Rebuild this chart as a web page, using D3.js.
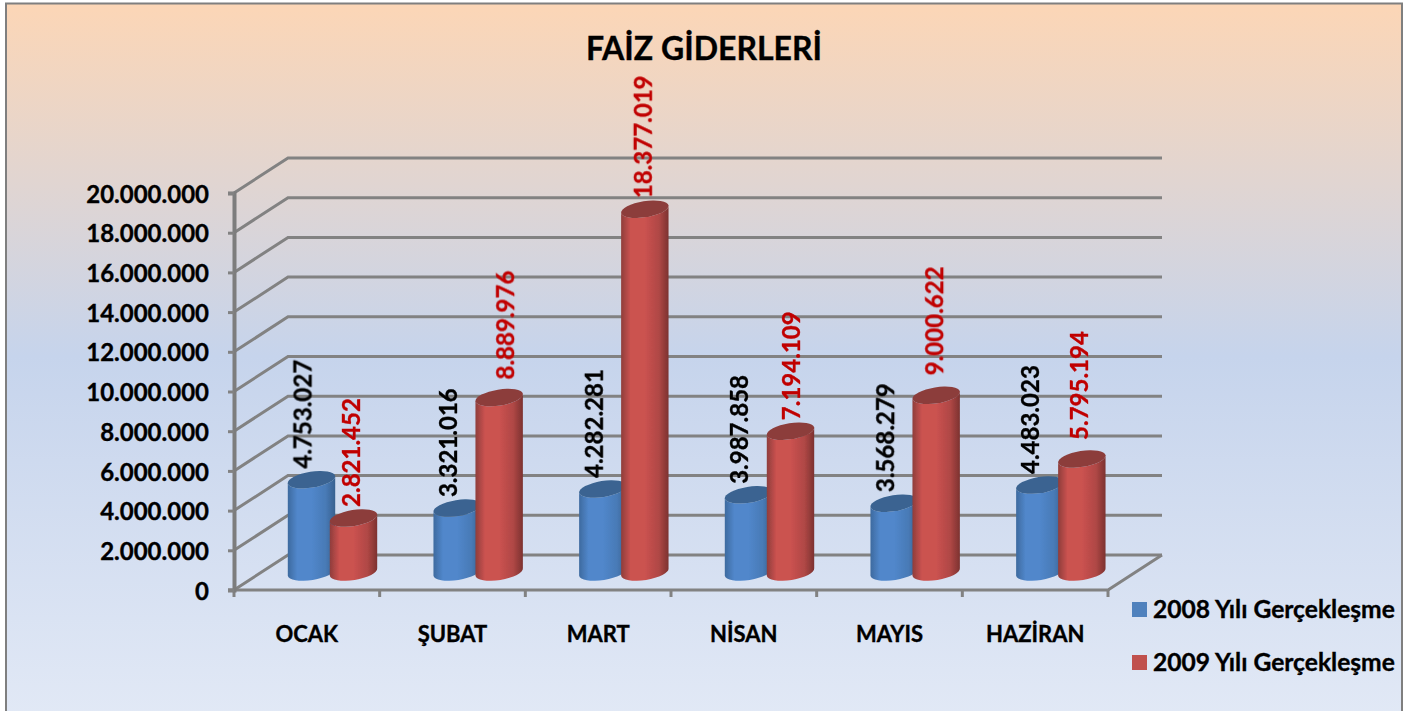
<!DOCTYPE html>
<html>
<head>
<meta charset="utf-8">
<script src="https://cdn.jsdelivr.net/npm/d3@7"></script>
<style>
  html, body { margin: 0; padding: 0; background: #fff; overflow: hidden; }
  text { font-family: Lato, "Open Sans", sans-serif; font-weight: 700; stroke-width: 0.35; }
  .grid { fill: none; stroke: #828282; stroke-width: 3; }
</style>
</head>
<body>
<svg id="chart" width="1415" height="711"></svg>
<script>
const months = ['OCAK', 'ŞUBAT', 'MART', 'NİSAN', 'MAYIS', 'HAZİRAN']
const seriesNames = ['2008 Yılı Gerçekleşme', '2009 Yılı Gerçekleşme']
const values2008 = [4753027, 3321016, 4282281, 3987858, 3568279, 4483023]
const values2009 = [2821452, 8889976, 18377019, 7194109, 9000622, 5795194]
const yTicks = [0, 2000000, 4000000, 6000000, 8000000, 10000000, 12000000, 14000000, 16000000, 18000000, 20000000]

const depth = {x: 54, y: -35}
const mid = {x: 26.5, y: -16}
const plot = {left: 234, right: 1108, top: 193, bottom: 590}
const barW = 48
const ry = 8
const tilt = 9
const baseLift = 2

const x = d3.scaleBand().domain(months).range([plot.left, plot.right])
const xInner = d3.scaleBand().domain(seriesNames).range([30, 114])
const y = d3.scaleLinear().domain([0, 20000000]).range([plot.bottom, plot.top])
const fmt = d3.formatLocale({decimal: ',', thousands: '.', grouping: [3], currency: ['', '']}).format(',')

const svg = d3.select('#chart')
const defs = svg.append('defs')

// panel background
const bg = defs.append('linearGradient').attr('id', 'bg').attr('x2', 0).attr('y2', 1)
bg.append('stop').attr('offset', 0).attr('stop-color', '#fcd6b6')
bg.append('stop').attr('offset', 0.49).attr('stop-color', '#c6d4ec')
bg.append('stop').attr('offset', 1).attr('stop-color', '#e2e9f6')

function cylGradient(id, edgeL, centre, edgeR) {
    const g = defs.append('linearGradient').attr('id', id)
    g.append('stop').attr('offset', 0).attr('stop-color', edgeL)
    g.append('stop').attr('offset', 0.2).attr('stop-color', centre)
    g.append('stop').attr('offset', 0.5).attr('stop-color', centre)
    g.append('stop').attr('offset', 0.8).attr('stop-color', d3.interpolateRgb(centre, edgeR)(0.35))
    g.append('stop').attr('offset', 1).attr('stop-color', edgeR)
}
cylGradient('cyl0', '#3d6a9f', '#5187cb', '#38618f')
cylGradient('cyl1', '#8f3d3b', '#cb5250', '#7c3230')

defs.append('filter').attr('id', 'soft')
    .append('feGaussianBlur').attr('stdDeviation', 0.5)

svg.append('rect')
    .attr('x', 6).attr('y', 3.5).attr('width', 1396).attr('height', 720)
    .attr('fill', 'url(#bg)').attr('stroke', '#7f7f7f').attr('stroke-width', 2)

svg.append('text')
    .attr('x', 704).attr('y', 60)
    .attr('text-anchor', 'middle').attr('font-size', 32).attr('fill', '#000').attr('stroke', '#000')
    .text('FAİZ GİDERLERİ')

const walls = svg.append('g').attr('filter', 'url(#soft)')

// back wall lines and their runs down the side wall
walls.selectAll('.back').data(yTicks).enter().append('path')
    .attr('class', 'grid back')
    .attr('d', d => `M${plot.left},${y(d)}l${depth.x},${depth.y}H${plot.right + depth.x}`)

// floor front edge and right edge
walls.append('path').attr('class', 'grid')
    .attr('d', `M${plot.left - 6},${y(0)}H${plot.right}l${depth.x},${depth.y}`)

// band separators under the floor
walls.selectAll('.sep').data(d3.range(months.length + 1)).enter().append('line')
    .attr('class', 'grid sep')
    .attr('x1', i => plot.left + i * x.step()).attr('x2', i => plot.left + i * x.step())
    .attr('y1', y(0)).attr('y2', y(0) + 7)

const yAxis = d3.axisLeft(y).tickValues(yTicks).tickFormat(fmt).tickSize(6).tickPadding(19)
svg.append('g')
    .attr('transform', `translate(${plot.left},0)`)
    .call(yAxis)
    .call(g => g.selectAll('.domain').attr('stroke', '#7d7d7d').attr('stroke-width', 4))
    .call(g => g.selectAll('.tick line').attr('stroke', '#828282').attr('stroke-width', 3))
    .call(g => g.selectAll('text').attr('font-size', 24).attr('fill', '#000').attr('stroke', '#000').attr('dy', '0.38em'))
    .attr('font-family', null)

const xAxis = d3.axisBottom(x).tickSize(0).tickPadding(36)
svg.append('g')
    .attr('transform', `translate(0,${plot.bottom})`)
    .call(xAxis)
    .call(g => g.select('.domain').remove())
    .call(g => g.selectAll('text').attr('font-size', 22).attr('fill', '#000').attr('stroke', '#000'))
    .attr('font-family', null)

function cylinder(cx, top, base) {
    const rad = tilt * Math.PI / 180
    const rx = barW / 2
    const dx = rx * Math.cos(rad)
    const dy = rx * Math.sin(rad)
    return `M${cx - dx},${top + dy}L${cx - dx},${base + dy}` +
        `A${rx},${ry} ${-tilt} 0 0 ${cx + dx},${base - dy}` +
        `L${cx + dx},${top - dy}` +
        `A${rx},${ry} ${-tilt} 0 1 ${cx - dx},${top + dy}Z`
}

const seriesData = [values2008, values2009]
const topColors = ['#3a6491', '#8c3d3b']
const labelColors = ['#000', '#c00000']
const labelShift = [-9, -2]
// the 2009 labels were moved by hand in the original
const nudgeX = [[0, 0, 0, 0, 0, 0], [0, 8, 0, 3, 0, 0]]
const nudgeY = [[0, 0, 0, 0, 0, 0], [0, -7, 0, 0, -9, -8]]

seriesData.forEach((vals, s) => {
    const bars = svg.append('g').attr('filter', 'url(#soft)')
    vals.forEach((v, i) => {
        const cx = x(months[i]) + xInner(seriesNames[s]) + xInner.bandwidth() / 2 + mid.x
        const top = y(v) + mid.y
        const base = y(0) + mid.y - baseLift
        bars.append('path').attr('d', cylinder(cx, top, base)).attr('fill', `url(#cyl${s})`)
        bars.append('ellipse')
            .attr('rx', barW / 2).attr('ry', ry)
            .attr('transform', `translate(${cx},${top}) rotate(${-tilt})`)
            .attr('fill', topColors[s])
    })
})

// labels sit above both series, so they go in last
seriesData.forEach((vals, s) => {
    svg.append('g').selectAll('text').data(vals).enter().append('text')
        .attr('transform', (d, i) => {
            const cx = x(months[i]) + xInner(seriesNames[s]) + xInner.bandwidth() / 2 + mid.x + labelShift[s] + nudgeX[s][i]
            return `translate(${cx},${y(d) + mid.y - 11 + nudgeY[s][i]}) rotate(-90)`
        })
        .attr('dy', '0.36em')
        .attr('font-size', 24)
        .attr('fill', labelColors[s])
        .attr('stroke', labelColors[s])
        .text(d => fmt(d))
})

// legend
const legendColors = ['#4f81bd', '#c0504d']
const legend = svg.append('g').selectAll('g').data(seriesNames).enter().append('g')
    .attr('transform', (d, i) => `translate(1132,${602 + i * 53})`)
legend.append('rect').attr('width', 15).attr('height', 15).attr('fill', (d, i) => legendColors[i])
legend.append('text')
    .attr('x', 21).attr('y', 7).attr('dy', '0.36em')
    .attr('font-size', 24.6).attr('fill', '#000').attr('stroke', '#000')
    .text(d => d)
</script>
</body>
</html>
